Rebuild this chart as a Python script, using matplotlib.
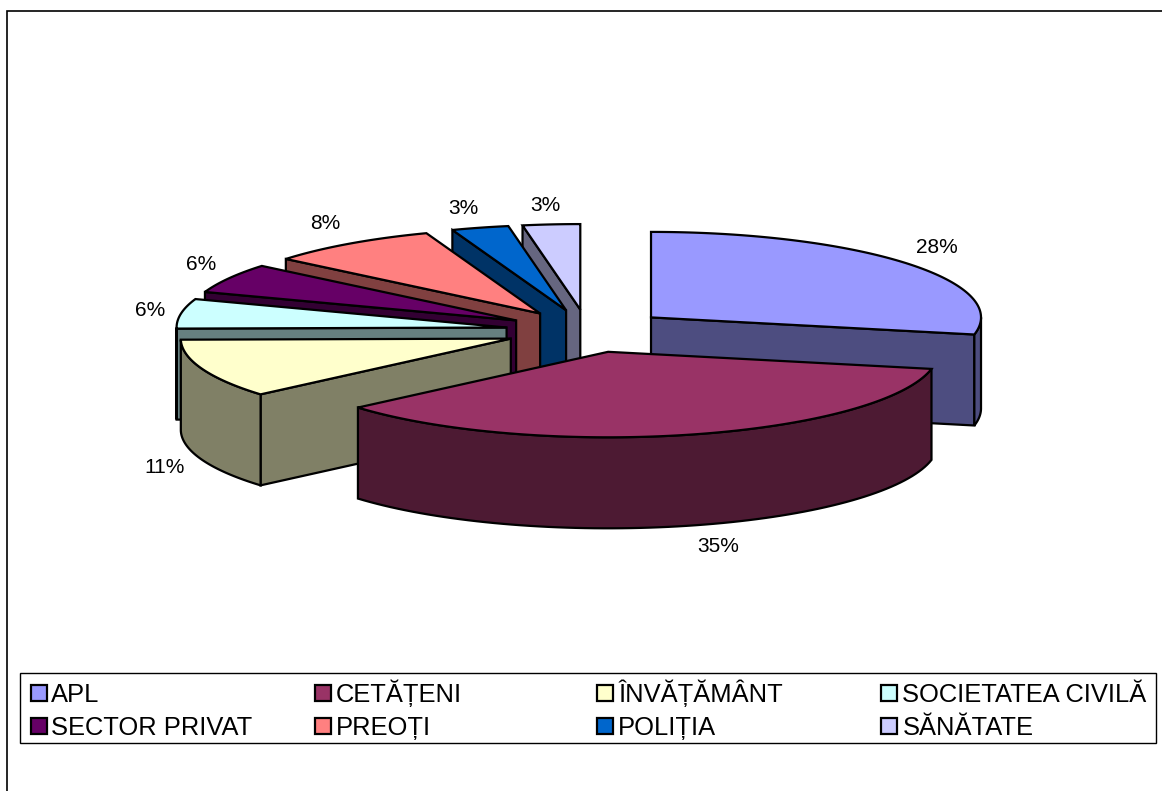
import numpy as np
import matplotlib
matplotlib.use("Agg")
import matplotlib.pyplot as plt
from matplotlib.patches import Polygon, Rectangle

plt.rcParams['font.family'] = ['Liberation Sans', 'DejaVu Sans']

categorias = ["APL", "CETĂȚENI", "ÎNVĂȚĂMÂNT", "SOCIETATEA CIVILĂ",
              "SECTOR PRIVAT", "PREOȚI", "POLIȚIA", "SĂNĂTATE"]
# valores estimados da figura (soma 100)
valores = [28.2, 35.49, 11.1, 5.6, 5.6, 8.4, 2.8, 2.8]
cores = ["#9999FF", "#993366", "#FFFFCC", "#CCFFFF",
         "#660066", "#FF8080", "#0066CC", "#CCCCFF"]
cores_lado = ["#4D4D80", "#4D1A33", "#808066", "#668080",
              "#330033", "#804040", "#003366", "#666680"]

# geometria da pizza 3D, em pixels
CX, CY = 587.5, 331
RX, RY = 330, 85.5
EXP_X, EXP_Y = 82, 21.5
ALTURA = 91
LW = 1.6

# ajuste de cada rótulo em relação à posição radial
ajuste_rotulos = [(-8, 3), (15, -8), (9, -3), (18, 2), (15, 1), (4, 4), (-4, 10), (-2, 11)]


def ponto(cx, cy, ang):
    t = np.radians(ang)
    return cx + RX * np.sin(t), cy - RY * np.cos(t)


def desenhar_fatia(ax, ini, fim, cor, cor_lado):
    meio = np.radians((ini + fim) / 2)
    ax_c = CX + EXP_X * np.sin(meio)
    ay_c = CY - EXP_Y * np.cos(meio)

    # paredes do corte
    for ang, visivel in ((ini, ini >= 180), (fim, fim <= 180)):
        if visivel:
            x, y = ponto(ax_c, ay_c, ang)
            pts = [(ax_c, ay_c), (x, y), (x, y + ALTURA), (ax_c, ay_c + ALTURA)]
            ax.add_patch(Polygon(pts, closed=True, fc=cor_lado, ec="black", lw=LW))

    # parede externa, só a parte da frente
    a0, a1 = max(ini, 90), min(fim, 270)
    if a1 > a0:
        angs = np.linspace(a0, a1, 80)
        xs, ys = ponto(ax_c, ay_c, angs)
        pts = list(zip(xs, ys)) + list(zip(xs[::-1], ys[::-1] + ALTURA))
        ax.add_patch(Polygon(pts, closed=True, fc=cor_lado, ec="black", lw=LW))

    # topo
    angs = np.linspace(ini, fim, 120)
    xs, ys = ponto(ax_c, ay_c, angs)
    pts = [(ax_c, ay_c)] + list(zip(xs, ys))
    ax.add_patch(Polygon(pts, closed=True, fc=cor, ec="black", lw=LW))
    return ax_c, ay_c


fig = plt.figure(figsize=(11.62, 7.91), dpi=100)
ax = fig.add_axes([0, 0, 1, 1])
ax.set_xlim(0, 1162)
ax.set_ylim(791, 0)
ax.axis("off")

# moldura do gráfico
ax.add_patch(Rectangle((7, 11), 1170, 800, fc="white", ec="black", lw=1.2))

acum = np.concatenate(([0], np.cumsum(valores))) * 360 / sum(valores)

# de trás para a frente
ordem = [7, 6, 5, 4, 3, 2, 0, 1]
for i in ordem:
    desenhar_fatia(ax, acum[i], acum[i + 1], cores[i], cores_lado[i])

# rótulos de porcentagem
for i, v in enumerate(valores):
    meio = (acum[i] + acum[i + 1]) / 2
    t = np.radians(meio)
    ax_c = CX + EXP_X * np.sin(t)
    ay_c = CY - EXP_Y * np.cos(t)
    lx = ax_c + 1.15 * RX * np.sin(t) + ajuste_rotulos[i][0]
    ly = ay_c - 1.35 * RY * np.cos(t) + ajuste_rotulos[i][1]
    if 90 < meio < 270:
        ly += ALTURA
    ax.text(lx, ly, f"{round(v)}%", fontsize=15, ha="center", va="center", color="black")

# legenda
ax.add_patch(Rectangle((20, 673), 1136, 70, fc="white", ec="black", lw=1.0))
col_x = [31, 315, 597, 881]
lin_y = [693, 726]
for i, nome in enumerate(categorias):
    x = col_x[i % 4]
    y = lin_y[i // 4]
    ax.add_patch(Rectangle((x, y - 8), 16, 16, fc=cores[i], ec="black", lw=LW))
    ax.text(x + 20 + (i % 4) * 0.5, y + 9, nome, fontsize=18.35, ha="left", va="baseline", color="black")

fig.savefig("out.png", dpi=100)
